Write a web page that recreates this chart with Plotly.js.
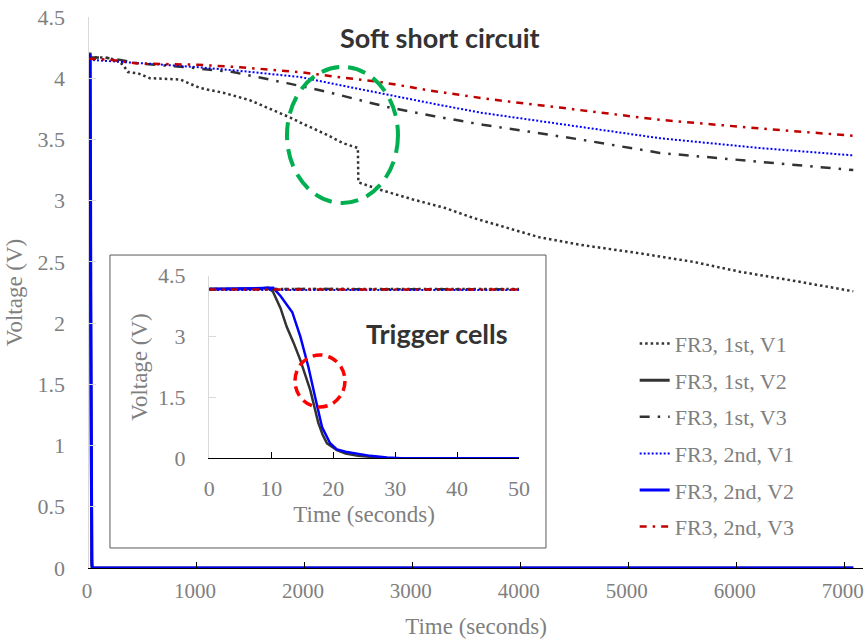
<!DOCTYPE html>
<html>
<head>
<meta charset="utf-8">
<script src="https://cdn.plot.ly/plotly-3.0.1.min.js"></script>
<style>
html,body{margin:0;padding:0;background:#fff;}
#chart{width:865px;height:640px;}
</style>
</head>
<body>
<div id="chart"></div>
<script>
// ---- data (time in seconds, voltage in V) ----
var seriesNames = ["FR3, 1st, V1", "FR3, 1st, V2", "FR3, 1st, V3", "FR3, 2nd, V1", "FR3, 2nd, V2", "FR3, 2nd, V3"];

var t1V1 = [0, 150, 250, 315, 361, 454, 565, 843, 1028, 1250, 1491, 1700, 1861, 2000, 2200, 2352, 2491, 2495, 2600, 2694, 3000, 3300, 3556, 3900, 4176, 4546, 5102, 5600, 6028, 6500, 7080];
var v1V1 = [4.17, 4.17, 4.15, 4.11, 4.05, 4.04, 4.00, 3.99, 3.92, 3.88, 3.82, 3.74, 3.68, 3.62, 3.54, 3.47, 3.43, 3.15, 3.12, 3.09, 3.01, 2.94, 2.86, 2.77, 2.70, 2.64, 2.57, 2.50, 2.42, 2.35, 2.26];

var t1V2 = [0, 8, 9.5, 10.3, 11.5, 12.5, 13.6, 14.7, 15.5, 16.3, 17, 17.6, 18.3, 19, 20.6, 22, 24, 26, 28, 30, 50, 7080];
var v1V2 = [4.17, 4.18, 4.21, 4.10, 3.70, 3.24, 2.85, 2.42, 2.05, 1.68, 1.25, 0.87, 0.58, 0.37, 0.20, 0.12, 0.06, 0.03, 0.01, 0, 0, 0];

var t1V3 = [0, 100, 225, 470, 900, 1333, 1833, 2200, 2602, 2787, 3200, 3648, 4100, 4546, 5287, 6213, 6981, 7080];
var v1V3 = [4.17, 4.17, 4.16, 4.12, 4.09, 4.05, 3.96, 3.89, 3.80, 3.76, 3.69, 3.62, 3.56, 3.50, 3.39, 3.32, 3.26, 3.25];

var t2V1 = [0, 200, 537, 843, 1009, 1400, 1769, 1954, 2400, 2787, 3200, 3620, 4100, 4546, 5287, 6213, 7074];
var v2V1 = [4.15, 4.14, 4.12, 4.10, 4.09, 4.06, 4.03, 4.01, 3.93, 3.86, 3.79, 3.72, 3.66, 3.60, 3.51, 3.43, 3.37];

var t2V2 = [0, 8, 9.5, 10.3, 11.5, 12.5, 13.4, 14.7, 16, 17.1, 18.2, 19.5, 20.6, 22, 24.4, 26, 28.7, 31, 50, 7080];
var v2V2 = [4.17, 4.18, 4.20, 4.20, 4.00, 3.80, 3.60, 3.00, 2.25, 1.50, 0.77, 0.37, 0.22, 0.16, 0.10, 0.06, 0.02, 0, 0, 0];

var t2V3 = [0, 200, 444, 815, 1009, 1400, 1769, 1954, 2300, 2694, 3157, 3700, 4361, 4546, 5287, 6213, 7074];
var v2V3 = [4.16, 4.15, 4.12, 4.11, 4.11, 4.09, 4.06, 4.05, 4.01, 3.97, 3.90, 3.83, 3.76, 3.74, 3.66, 3.59, 3.53];

var mainXTicks = [0, 1000, 2000, 3000, 4000, 5000, 6000, 7000];
var mainXLabels = ['0', '1000', '2000', '3000', '4000', '5000', '6000', '7000'];
var mainYTicks = [0, 0.5, 1, 1.5, 2, 2.5, 3, 3.5, 4, 4.5];
var mainYLabels = ['0', '0.5', '1', '1.5', '2', '2.5', '3', '3.5', '4', '4.5'];
var insetXTicks = [0, 10, 20, 30, 40, 50];
var insetXLabels = ['0', '10', '20', '30', '40', '50'];
var insetYTicks = [0, 1.5, 3, 4.5];
var insetYLabels = ['0', '1.5', '3', '4.5'];

// ---- styles ----
var styles = [
  {color: '#333333', width: 2.5, dash: '2.5px,3px'},
  {color: '#333333', width: 3, dash: 'solid'},
  {color: '#333333', width: 2.5, dash: '10px,8px,2.5px,8px'},
  {color: '#0000ff', width: 2, dash: '2px,2px'},
  {color: '#0000ff', width: 3, dash: 'solid'},
  {color: '#c00000', width: 2.5, dash: '7px,6px,2.5px,6px'}
];
var xs = [t1V1, t1V2, t1V3, t2V1, t2V2, t2V3];
var ys = [v1V1, v1V2, v1V3, v2V1, v2V2, v2V3];

var traces = [];
for (var i = 0; i < 6; i++) {
  traces.push({
    x: xs[i], y: ys[i], type: 'scatter', mode: 'lines', name: seriesNames[i],
    line: styles[i], xaxis: 'x', yaxis: 'y', legendgroup: 'g' + i
  });
}
for (var j = 0; j < 6; j++) {
  var st = Object.assign({}, styles[j]);
  if (j === 1 || j === 4) st.width = 2.5;
  traces.push({
    x: xs[j], y: ys[j], type: 'scatter', mode: 'lines', name: seriesNames[j],
    line: st, xaxis: 'x2', yaxis: 'y2', showlegend: false
  });
}

var serif = 'Liberation Serif';
var gray = '#7f7f7f';
function tf(s) { return {family: serif, size: s || 22, color: gray}; }
function ttl() { return {family: serif, size: 23, color: gray}; }

var layout = {
  width: 865, height: 640,
  font: {family: serif, size: 22, color: gray},
  margin: {l: 89, r: 2, t: 17, b: 72},
  paper_bgcolor: '#ffffff', plot_bgcolor: '#ffffff',
  showlegend: true,
  legend: {
    x: 0.705, y: 0.445, xanchor: 'left', yanchor: 'top',
    font: {family: serif, size: 22, color: gray},
    bgcolor: 'rgba(0,0,0,0)', borderwidth: 0,
    traceorder: 'grouped', tracegroupgap: 5
  },
  xaxis: {
    domain: [0, 1], range: [0, 7170], tickmode: 'array', tickvals: mainXTicks, ticktext: mainXLabels,
    showgrid: false, zeroline: false, showline: true, linecolor: '#000000', linewidth: 1,
    ticks: 'inside', ticklen: 6, tickcolor: '#000000', tickwidth: 1,
    tickfont: tf(21), ticklabelstandoff: 4, ticklabeloverflow: 'allow', ticklabelshift: -2,
    title: {text: 'Time (seconds)', font: ttl(), standoff: 15},
    anchor: 'y'
  },
  yaxis: {
    domain: [0, 1], range: [0, 4.5], tickmode: 'array', tickvals: mainYTicks, ticktext: mainYLabels,
    showgrid: false, zeroline: false, showline: true, linecolor: '#d9d9d9', linewidth: 1.5,
    ticks: 'inside', ticklen: 7, tickcolor: '#d9d9d9', tickwidth: 1,
    tickfont: tf(22), ticklabelstandoff: 18, ticklabeloverflow: 'allow',
    title: {text: 'Voltage (V)', font: ttl(), standoff: 8},
    anchor: 'x'
  },
  xaxis2: {
    domain: [0.1554, 0.5556], range: [0, 50], tickmode: 'array', tickvals: insetXTicks, ticktext: insetXLabels,
    showgrid: false, zeroline: false, showline: true, linecolor: '#000000', linewidth: 1,
    ticks: 'inside', ticklen: 6, tickcolor: '#000000', tickwidth: 1,
    tickfont: tf(22), ticklabelstandoff: 10, ticklabeloverflow: 'allow',
    title: {text: 'Time (seconds)', font: ttl(), standoff: 6},
    anchor: 'y2'
  },
  yaxis2: {
    domain: [0.1991, 0.5305], range: [0, 4.5], tickmode: 'array', tickvals: insetYTicks, ticktext: insetYLabels,
    showgrid: false, zeroline: false, showline: true, linecolor: '#d9d9d9', linewidth: 1.5,
    ticks: 'inside', ticklen: 7, tickcolor: '#d9d9d9', tickwidth: 1,
    tickfont: tf(22), ticklabelstandoff: 18, ticklabeloverflow: 'allow',
    title: {text: 'Voltage (V)', font: ttl(), standoff: 4},
    anchor: 'x2'
  },
  shapes: [
    {type: 'rect', xref: 'paper', yref: 'paper', x0: 0.0271, x1: 0.5904, y0: 0.0363, y1: 0.568,
     line: {color: '#595959', width: 1}, fillcolor: '#ffffff', layer: 'below'},
    {type: 'circle', xref: 'paper', yref: 'paper', x0: 0.2558, x1: 0.3992, y0: 0.6624, y1: 0.9093,
     line: {color: '#00b050', width: 4, dash: '18px,9px'}},
    {type: 'circle', xref: 'paper', yref: 'paper', x0: 0.2661, x1: 0.3307, y0: 0.2922, y1: 0.3866,
     line: {color: '#ff0000', width: 3.5, dash: '10px,6px'}}
  ],
  annotations: [
    {text: '<b>Soft short circuit</b>', xref: 'paper', yref: 'paper', x: 0.4535, y: 0.9637,
     xanchor: 'center', yanchor: 'middle', showarrow: false,
     font: {family: 'Lato', size: 27, color: '#333333'}},
    {text: '<b>Trigger cells</b>', xref: 'paper', yref: 'paper', x: (437 - 89) / 774, y: (568 - 333) / 551,
     xanchor: 'center', yanchor: 'middle', showarrow: false,
     font: {family: 'Lato', size: 27, color: '#333333'}}
  ]
};

Plotly.newPlot('chart', traces, layout, {staticPlot: true, displayModeBar: false});
</script>
</body>
</html>
